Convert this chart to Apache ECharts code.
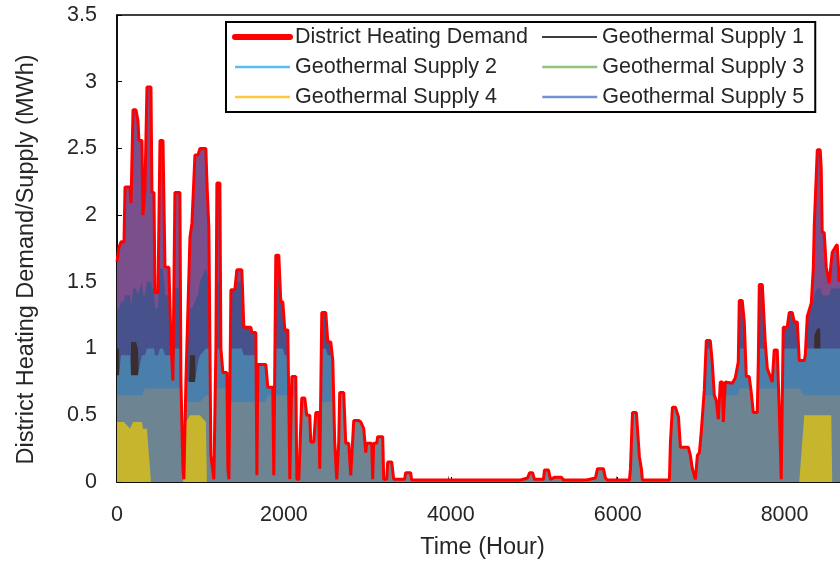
<!DOCTYPE html>
<html><head><meta charset="utf-8">
<script src="https://cdn.jsdelivr.net/npm/echarts@6/dist/echarts.min.js"></script>
<style>html,body{margin:0;padding:0;background:#fff}#c{width:840px;height:565px}</style>
</head><body><div id="c"></div>
<script>
// x positions (hour of year)
const hours = [
0,24,48,84,96,156,168,192,227,251,263,299,311,335,359,407,419,443,455,491,515,551,575,622,646,670,694,754,766,790,802,826,874,898,934,970,994,1065,1077,1101,1125,1161,1185,1197,1233,1245,1269,1317,1329,1341,
1365,1412,1436,1496,1520,1604,1616,1664,1676,1688,1784,1807,1867,1879,1903,1939,1963,1987,2011,2047,2071,2095,2143,2155,2179,2214,2250,2274,2310,2322,2358,2382,2418,2430,2454,2502,2526,2562,2586,2609,2633,2657,2669,2717,2741,2777,2801,2837,2897,2921,2957,2981,2993,3052,3064,3076,3112,3124,3184,3196,3232,3244,3292,3316,3447,3459,3519,3531,
3699,3711,3723,3962,3974,3986,4285,4297,4309,4608,4620,4632,4812,4824,4836,4920,4944,4980,5003,5111,5123,5171,5195,5243,5327,5351,5602,5614,5626,5734,5758,5829,5853,5877,5973,5985,5997,6141,6153,6177,6224,6260,6284,6296,6428,6440,6452,6620,6632,6656,6692,6728,6752,6776,6847,6871,6895,6931,6955,6979,7002,7038,
7062,7110,7134,7158,7182,7206,7230,7254,7266,7290,7374,7409,7445,7457,7493,7517,7541,7577,7601,7625,7673,7685,7697,7733,7769,7793,7829,7852,7876,7912,7936,7960,7972,7984,8032,8056,8092,8116,8152,8176,8236,8248,8272,8320,8344,8356,8392,8427,8439,8451,8475,8499,8535,8559,8571,8607,8631,8655,8715,8760
];
// District heating demand (MWh)
const demand = [
1.65,1.76,1.8,1.8,2.21,2.21,2.09,2.79,2.79,2.71,2.56,2.56,2.0,2.2,2.96,2.96,2.17,2.17,1.42,1.42,2.56,2.56,1.61,1.61,1.06,0.76,2.17,2.17,0.76,0.1,0.02,0.76,1.83,1.94,2.45,2.45,2.5,2.5,2.26,1.9,0.2,0.02,1.0,2.24,2.24,1.0,0.82,0.82,0.1,0.02,
1.44,1.44,1.59,1.59,1.16,1.16,1.12,1.12,0.05,0.88,0.88,0.71,0.71,0.05,1.7,1.7,1.35,1.35,1.14,1.14,0.02,0.79,0.79,0.02,0.02,0.63,0.63,0.5,0.5,0.3,0.3,0.52,0.52,0.1,1.27,1.27,1.05,1.05,0.91,0.3,0.02,0.3,0.67,0.67,0.29,0.29,0.05,0.46,0.46,0.45,0.4,0.22,0.29,0.29,0.02,0.29,0.29,0.34,0.34,0.02,0.02,0.15,0.15,0.02,0.02,0.07,0.07,0.015,
0.015,0.025,0.015,0.015,0.015,0.015,0.015,0.025,0.015,0.015,0.025,0.015,0.015,0.025,0.015,0.03,0.07,0.07,0.02,0.02,0.09,0.09,0.02,0.035,0.035,0.015,0.015,0.025,0.015,0.03,0.1,0.1,0.03,0.015,0.015,0.015,0.015,0.015,0.1,0.52,0.52,0.19,0.1,0.015,0.015,0.025,0.015,0.015,0.3,0.56,0.56,0.49,0.26,0.26,0.26,0.2,0.1,0.02,0.2,0.22,0.38,0.69,
1.06,1.06,0.89,0.65,0.61,0.47,0.75,0.75,0.45,0.75,0.74,0.78,0.9,1.36,1.36,1.2,0.79,0.79,0.67,0.52,0.52,0.9,1.48,1.48,1.04,0.85,0.79,0.75,0.99,0.99,0.55,0.02,0.6,1.16,1.16,1.27,1.27,1.2,1.2,0.91,0.91,0.95,1.24,1.34,1.6,1.93,2.49,2.49,2.35,1.87,1.87,1.61,1.49,1.65,1.72,1.76,1.78,1.5,1.7,1.6
];
// Geothermal supply 5
const supply5 = [
1.3,1.3,1.35,1.35,1.4,1.4,1.3,1.45,1.45,1.4,1.4,1.5,1.4,1.4,1.5,1.5,1.45,1.45,1.3,1.3,1.6,1.6,1.4,1.4,1.06,0.76,1.45,1.45,0.76,0.1,0.02,0.76,1.3,1.3,1.35,1.4,1.5,1.6,1.6,1.5,0.2,0.02,1.0,1.5,1.5,1.0,0.82,0.82,0.1,0.02,
1.44,1.44,1.5,1.5,1.16,1.16,1.12,1.12,0.05,0.88,0.88,0.71,0.71,0.05,1.7,1.7,1.35,1.35,1.14,1.14,0.02,0.79,0.79,0.02,0.02,0.63,0.63,0.5,0.5,0.3,0.3,0.52,0.52,0.1,1.27,1.27,1.05,1.05,0.91,0.3,0.02,0.3,0.67,0.67,0.29,0.29,0.05,0.46,0.46,0.45,0.4,0.22,0.29,0.29,0.02,0.29,0.29,0.34,0.34,0.02,0.02,0.15,0.15,0.02,0.02,0.07,0.07,0.015,
0.015,0.025,0.015,0.015,0.015,0.015,0.015,0.025,0.015,0.015,0.025,0.015,0.015,0.025,0.015,0.03,0.07,0.07,0.02,0.02,0.09,0.09,0.02,0.035,0.035,0.015,0.015,0.025,0.015,0.03,0.1,0.1,0.03,0.015,0.015,0.015,0.015,0.015,0.1,0.52,0.52,0.19,0.1,0.015,0.015,0.025,0.015,0.015,0.3,0.56,0.56,0.49,0.26,0.26,0.26,0.2,0.1,0.02,0.2,0.22,0.38,0.69,
1.06,1.06,0.89,0.65,0.61,0.47,0.75,0.75,0.45,0.75,0.74,0.78,0.9,1.36,1.36,1.2,0.79,0.79,0.67,0.52,0.52,0.9,1.48,1.48,1.04,0.85,0.79,0.75,0.99,0.99,0.55,0.02,0.6,1.16,1.16,1.27,1.27,1.2,1.2,0.91,0.91,0.95,1.24,1.3,1.35,1.4,1.45,1.45,1.45,1.4,1.4,1.4,1.4,1.45,1.45,1.45,1.45,1.45,1.45,1.45
];
// Geothermal supply 1
const supply1 = [
1.0,1.0,0,0,0,0,1.05,1.05,1.05,1.0,1.0,0,0,0,0,0,0,0,0,0,0,0,0,0,0,0,0,0,0,0,0,0,0.95,0.95,0.95,0,0,0,0,0,0,0,0,0,0,0,0,0,0,0,
0,0,0,0,0,0,0,0,0,0,0,0,0,0,0,0,0,0,0,0,0,0,0,0,0,0,0,0,0,0,0,0,0,0,0,0,0,0,0,0,0,0,0,0,0,0,0,0,0,0,0,0,0,0,0,0,0,0,0,0,0,0,0,0,0,0,0,0,
0,0,0,0,0.05,0,0,0,0,0,0,0,0,0,0,0,0,0,0,0,0,0,0,0,0,0,0,0,0,0,0,0,0,0,0,0.05,0,0,0,0,0,0,0,0,0,0,0,0,0,0,0,0,0,0,0,0,0,0,0,0,0,0,
0,0,0,0,0,0,0,0,0,0,0,0,0,0,0,0,0,0,0,0,0,0,0,0,0,0,0,0,0,0,0,0,0,0,0,0,0,0,0,0,0,0,0,0,0,1.1,1.15,1.15,0,0,0,0,0,0,0,0,0,0,0,0
];
// Geothermal supply 2
const supply2 = [
0.8,0.8,0.95,0.95,0.95,0.95,0.8,0.8,0.8,0.8,0.85,0.95,0.95,0.95,1.0,1.0,1.0,1.0,0.95,0.95,1.0,1.0,0.95,0.95,0.95,0.76,1.0,1.0,0.76,0.1,0.02,0.76,0.75,0.75,0.75,0.9,0.95,1.0,1.0,1.0,0.2,0.02,0.95,1.0,1.0,0.95,0.82,0.82,0.1,0.02,
1.0,1.0,1.0,1.0,0.95,0.95,0.95,0.95,0.05,0.88,0.88,0.71,0.71,0.05,1.0,1.0,1.0,1.0,0.95,0.95,0.02,0.79,0.79,0.02,0.02,0.63,0.63,0.5,0.5,0.3,0.3,0.52,0.52,0.1,1.0,1.0,0.95,0.95,0.91,0.3,0.02,0.3,0.67,0.67,0.29,0.29,0.05,0.46,0.46,0.45,0.4,0.22,0.29,0.29,0.02,0.29,0.29,0.34,0.34,0.02,0.02,0.15,0.15,0.02,0.02,0.07,0.07,0.015,
0.015,0.025,0.015,0.015,0.015,0.015,0.015,0.025,0.015,0.015,0.025,0.015,0.015,0.025,0.015,0.03,0.07,0.07,0.02,0.02,0.09,0.09,0.02,0.035,0.035,0.015,0.015,0.025,0.015,0.03,0.1,0.1,0.03,0.015,0.015,0.015,0.015,0.015,0.1,0.52,0.52,0.19,0.1,0.015,0.015,0.025,0.015,0.015,0.3,0.56,0.56,0.49,0.26,0.26,0.26,0.2,0.1,0.02,0.2,0.22,0.38,0.69,
1.0,1.0,0.89,0.65,0.61,0.47,0.75,0.75,0.45,0.75,0.74,0.78,0.9,1.0,1.0,1.0,0.79,0.79,0.67,0.52,0.52,0.9,1.0,1.0,1.0,0.85,0.79,0.75,0.99,0.99,0.55,0.02,0.6,1.0,1.0,1.0,1.0,1.0,1.0,0.91,0.91,0.95,1.0,1.0,1.0,1.0,1.0,1.0,1.0,1.0,1.0,1.0,1.0,1.0,1.0,1.0,1.0,1.0,1.0,1.0
];
// Geothermal supply 3
const supply3 = [
0.65,0.65,0.65,0.65,0.65,0.65,0.65,0.65,0.65,0.65,0.65,0.65,0.65,0.7,0.7,0.7,0.7,0.7,0.7,0.7,0.7,0.7,0.7,0.7,0.7,0.7,0.7,0.7,0.7,0.1,0.02,0.6,0.6,0.6,0.6,0.6,0.6,0.65,0.65,0.65,0.2,0.02,0.7,0.7,0.7,0.7,0.7,0.7,0.1,0.02,
0.6,0.6,0.6,0.6,0.6,0.6,0.6,0.6,0.05,0.6,0.6,0.65,0.65,0.05,0.65,0.65,0.65,0.65,0.65,0.65,0.02,0.65,0.65,0.02,0.02,0.63,0.63,0.5,0.5,0.3,0.3,0.52,0.52,0.1,0.6,0.6,0.6,0.6,0.6,0.3,0.02,0.3,0.67,0.67,0.29,0.29,0.05,0.46,0.46,0.45,0.4,0.22,0.29,0.29,0.02,0.29,0.29,0.34,0.34,0.02,0.02,0.15,0.15,0.02,0.02,0.07,0.07,0.015,
0.015,0.025,0.015,0.015,0.015,0.015,0.015,0.025,0.015,0.015,0.025,0.015,0.015,0.025,0.015,0.03,0.07,0.07,0.02,0.02,0.09,0.09,0.02,0.035,0.035,0.015,0.015,0.025,0.015,0.03,0.1,0.1,0.03,0.015,0.015,0.015,0.015,0.015,0.1,0.52,0.52,0.19,0.1,0.015,0.015,0.025,0.015,0.015,0.3,0.56,0.56,0.49,0.26,0.26,0.26,0.2,0.1,0.02,0.2,0.22,0.38,0.69,
0.65,0.65,0.65,0.65,0.61,0.47,0.65,0.65,0.45,0.65,0.65,0.65,0.65,0.7,0.7,0.7,0.7,0.7,0.67,0.52,0.52,0.7,0.7,0.7,0.7,0.7,0.7,0.7,0.7,0.7,0.55,0.02,0.6,0.7,0.7,0.7,0.7,0.7,0.7,0.7,0.65,0.65,0.65,0.65,0.65,0.65,0.65,0.65,0.65,0.65,0.65,0.65,0.65,0.65,0.65,0.65,0.65,0.65,0.65,0.65
];
// Geothermal supply 4
const supply4 = [
0.45,0.45,0.45,0.45,0.45,0.4,0.4,0.45,0.45,0.45,0.45,0.45,0.4,0.4,0.4,0,0,0,0,0,0,0,0,0,0,0,0,0,0,0,0,0.45,0.5,0.5,0.5,0.5,0.5,0.45,0,0,0,0,0,0,0,0,0,0,0,0,
0,0,0,0,0,0,0,0,0,0,0,0,0,0,0,0,0,0,0,0,0,0,0,0,0,0,0,0,0,0,0,0,0,0,0,0,0,0,0,0,0,0,0,0,0,0,0,0,0,0,0,0,0,0,0,0,0,0,0,0,0,0,0,0,0,0,0,0,
0,0,0,0,0,0,0,0,0,0,0,0,0,0,0,0,0,0,0,0,0,0,0,0,0,0,0,0,0,0,0,0,0,0,0,0,0,0,0,0,0,0,0,0,0,0,0,0,0,0,0,0,0,0,0,0,0,0,0,0,0,0,
0,0,0,0,0,0,0,0,0,0,0,0,0,0,0,0,0,0,0,0,0,0,0,0,0,0,0,0,0,0,0,0,0,0,0,0,0,0,0,0,0.5,0.5,0.5,0.5,0.5,0.5,0.5,0.5,0.5,0.5,0.5,0.5,0.5,0.5,0,0,0,0,0,0
];
const xTicks = [0, 2000, 4000, 6000, 8000];
const names = ['District Heating Demand','Geothermal Supply 1','Geothermal Supply 2','Geothermal Supply 3','Geothermal Supply 4','Geothermal Supply 5'];

const FONT = 'Liberation Sans';
const TXT = '#262626';
function pairs(vals){ return hours.map((h,i)=>[h, vals[i]]); }
function areaSeries(name, vals, lineColor, fill){
  return {name:name, type:'line', data:pairs(vals), symbol:'none', showSymbol:false,
    color:lineColor, lineStyle:{width:0, color:lineColor}, areaStyle:{color:fill, opacity:1},
    silent:true, animation:false};
}
const hid = {opacity:0};
const chart = echarts.init(document.getElementById('c'), null, {renderer:'canvas'});
chart.setOption({
  animation:false,
  grid:{left:117, width:731, top:15, bottom:83, show:true, borderColor:'#000', borderWidth:1.5,
    containLabel:false, outerBoundsMode:'none'},
  legend:{
    left:226, top:22, width:575, orient:'horizontal',
    padding:[3,8,3,6], borderColor:'#000', borderWidth:2, backgroundColor:'#fff',
    itemWidth:55, itemHeight:14, itemGap:6,
    itemStyle:{opacity:0},
    textStyle:{fontFamily:FONT, fontSize:21.5, color:TXT, lineHeight:24},
    data:[
      {name:names[0], itemStyle:hid, lineStyle:{width:6, color:'#ff0000', cap:'round'}, textStyle:{width:240}},
      {name:names[1], itemStyle:hid, lineStyle:{width:2, color:'#3c3c3c'}, textStyle:{width:205}},
      {name:names[2], itemStyle:hid, lineStyle:{width:2.5, color:'#56c1ee'}, textStyle:{width:240}},
      {name:names[3], itemStyle:hid, lineStyle:{width:2.5, color:'#93c47d'}, textStyle:{width:205}},
      {name:names[4], itemStyle:hid, lineStyle:{width:2.5, color:'#ffc83d'}, textStyle:{width:240}},
      {name:names[5], itemStyle:hid, lineStyle:{width:2.5, color:'#7393d0'}, textStyle:{width:205}}
    ]
  },
  xAxis:{type:'value', min:0, max:8760, interval:2000,
    axisLine:{lineStyle:{color:'#000', width:1.5}},
    axisTick:{inside:true, length:5, lineStyle:{color:'#000'}},
    splitLine:{show:false},
    axisLabel:{fontFamily:FONT, fontSize:21.5, color:TXT, margin:22,
      formatter:function(v){ return xTicks.indexOf(v) >= 0 ? String(v) : ''; }},
    name:'Time (Hour)', nameLocation:'middle', nameGap:54,
    nameTextStyle:{fontFamily:FONT, fontSize:23.5, color:TXT}
  },
  yAxis:{type:'value', min:0, max:3.5, interval:0.5,
    axisLine:{show:true, lineStyle:{color:'#000', width:1.5}},
    axisTick:{show:true, inside:true, length:5, lineStyle:{color:'#000'}},
    splitLine:{show:false},
    axisLabel:{fontFamily:FONT, fontSize:21.5, color:TXT, margin:20},
    name:'District Heating Demand/Supply (MWh)', nameLocation:'middle', nameGap:78,
    nameTextStyle:{fontFamily:FONT, fontSize:23.5, color:TXT, padding:[0,22,0,0]}
  },
  series:[
    areaSeries('', demand, '#ff0000', '#7b4e8c'),
    areaSeries(names[5], supply5, '#7393d0', '#47518c'),
    areaSeries(names[1], supply1, '#3c3c3c', '#3b2e2e'),
    areaSeries(names[2], supply2, '#56c1ee', '#4a7fab'),
    areaSeries(names[3], supply3, '#93c47d', '#6d8592'),
    areaSeries(names[4], supply4, '#ffc83d', '#c8b52e'),
    {name:names[0], type:'line', data:pairs(demand), symbol:'none', showSymbol:false,
      color:'#ff0000', lineStyle:{width:3, color:'#ff0000'}, silent:true, z:5}
  ]
});
</script></body></html>
